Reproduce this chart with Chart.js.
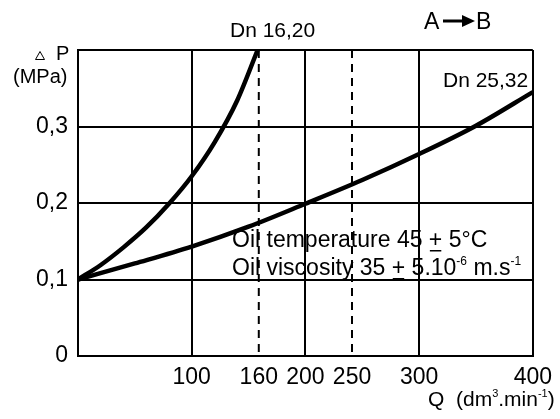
<!DOCTYPE html>
<html>
<head>
<meta charset="utf-8">
<script src="https://cdn.jsdelivr.net/npm/chart.js@4"></script>
<style>
  html, body { margin: 0; padding: 0; background: #fff; }
  #wrap { width: 560px; height: 419px; }
</style>
</head>
<body>
<div id="wrap"><canvas id="chart"></canvas></div>
<script>
// values
const flowSmall = [0, 20, 40, 60, 80, 100, 120, 140, 158];
const dpSmall = [0.1, 0.119, 0.142, 0.168, 0.199, 0.235, 0.279, 0.334, 0.4];
const flowLarge = [0, 50, 100, 150, 200, 250, 300, 350, 400];
const dpLarge = [0.1, 0.121, 0.143, 0.169, 0.199, 0.23, 0.264, 0.301, 0.345];
const xTickValues = [100, 159, 200, 241, 300, 400];
const xTickLabels = ['100', '160', '200', '250', '300', '400'];
const dashedAt = [159, 241];
const yTickValues = [0, 0.1, 0.2, 0.3, 0.4];
const yTickLabels = ['0', '0,1', '0,2', '0,3', ''];

const FONT = '"Liberation Sans", Arial, sans-serif';
Chart.defaults.font.family = FONT;
Chart.defaults.color = '#000';

function toPoints(xs, ys) {
  return xs.map((x, i) => ({ x: x, y: ys[i] }));
}

const curveStyle = {
  borderColor: '#000',
  borderWidth: 4.5,
  pointRadius: 0,
  fill: false,
  cubicInterpolationMode: 'monotone'
};

const datasets = [
  Object.assign({ label: 'Dn 16,20', data: toPoints(flowSmall, dpSmall) }, curveStyle),
  Object.assign({ label: 'Dn 25,32', data: toPoints(flowLarge, dpLarge) }, curveStyle)
];
dashedAt.forEach(v => {
  datasets.push({
    label: 'dash ' + v,
    data: [{ x: v, y: 0 }, { x: v, y: 0.4 }],
    borderColor: '#000',
    borderWidth: 2,
    borderDash: [8, 6],
    borderDashOffset: -4,
    pointRadius: 0,
    fill: false
  });
});

// text with underlined and superscript parts
function drawRich(ctx, x, y, parts, size) {
  let cx = x;
  parts.forEach(p => {
    const s = p.sup ? Math.round(size * 0.52) : size;
    ctx.font = s + 'px ' + FONT;
    const yy = p.sup ? y - size * 0.42 : y;
    ctx.fillText(p.t, cx, yy);
    const w = ctx.measureText(p.t).width;
    if (p.under) {
      ctx.fillRect(cx + 1, y + 3, w - 2, 1.5);
    }
    cx += w;
  });
}

const labelsPlugin = {
  id: 'labels',
  afterDraw(chart) {
    const ctx = chart.ctx;
    ctx.save();
    ctx.fillStyle = '#000';
    ctx.strokeStyle = '#000';
    ctx.textAlign = 'left';
    ctx.textBaseline = 'alphabetic';

    drawRich(ctx, 230, 37, [{ t: 'Dn 16,20' }], 21);
    drawRich(ctx, 443, 87, [{ t: 'Dn 25,32' }], 21);

    // A -> B
    drawRich(ctx, 424, 29, [{ t: 'A' }], 23);
    ctx.lineWidth = 3;
    ctx.beginPath();
    ctx.moveTo(443, 21);
    ctx.lineTo(464, 21);
    ctx.stroke();
    ctx.beginPath();
    ctx.moveTo(475, 21);
    ctx.lineTo(462, 15);
    ctx.lineTo(462, 27);
    ctx.closePath();
    ctx.fill();
    drawRich(ctx, 476, 29, [{ t: 'B' }], 23);

    // delta P (MPa)
    ctx.lineWidth = 1;
    ctx.beginPath();
    ctx.moveTo(35.5, 59.5);
    ctx.lineTo(44.5, 59.5);
    ctx.lineTo(40, 51.5);
    ctx.closePath();
    ctx.stroke();
    drawRich(ctx, 56, 60, [{ t: 'P' }], 20);
    drawRich(ctx, 13, 83, [{ t: '(MPa)' }], 20);

    // x axis title
    drawRich(ctx, 428, 406, [
      { t: 'Q  (dm' }, { t: '3', sup: true }, { t: '.min' }, { t: '-1', sup: true }, { t: ')' }
    ], 21);

    // oil notes
    drawRich(ctx, 232, 247, [
      { t: 'Oil temperature 45 ' }, { t: '+', under: true }, { t: ' 5°C' }
    ], 23);
    drawRich(ctx, 232, 275, [
      { t: 'Oil viscosity 35 ' }, { t: '+', under: true }, { t: ' 5.10' },
      { t: '-6', sup: true }, { t: ' m.s' }, { t: '-1', sup: true }
    ], 23);
    ctx.restore();
  }
};

new Chart(document.getElementById('chart'), {
  type: 'line',
  data: { datasets: datasets },
  options: {
    responsive: true,
    maintainAspectRatio: false,
    animation: false,
    layout: { padding: { top: 50, right: 21, left: 0, bottom: 0 } },
    plugins: {
      legend: { display: false },
      tooltip: { enabled: false }
    },
    scales: {
      x: {
        type: 'linear',
        min: 0,
        max: 400,
        afterBuildTicks: scale => {
          scale.ticks = xTickValues.map(v => ({ value: v }));
        },
        afterFit: scale => { scale.height = 63; },
        ticks: {
          autoSkip: false,
          maxRotation: 0,
          padding: 8,
          font: { size: 23 },
          callback: v => xTickLabels[xTickValues.indexOf(v)]
        },
        grid: {
          drawTicks: false,
          lineWidth: 2,
          color: c => (c.tick && dashedAt.includes(c.tick.value)) ? 'rgba(0,0,0,0)' : '#000'
        },
        border: { display: true, color: '#000', width: 2 }
      },
      y: {
        type: 'linear',
        min: 0,
        max: 0.4,
        afterBuildTicks: scale => {
          scale.ticks = yTickValues.map(v => ({ value: v }));
        },
        afterFit: scale => { scale.width = 78; },
        ticks: {
          padding: 10,
          font: { size: 23 },
          callback: v => yTickLabels[yTickValues.indexOf(v)]
        },
        grid: {
          drawTicks: false,
          lineWidth: 2,
          color: '#000'
        },
        border: { display: true, color: '#000', width: 2 }
      }
    }
  },
  plugins: [labelsPlugin]
});
</script>
</body>
</html>
